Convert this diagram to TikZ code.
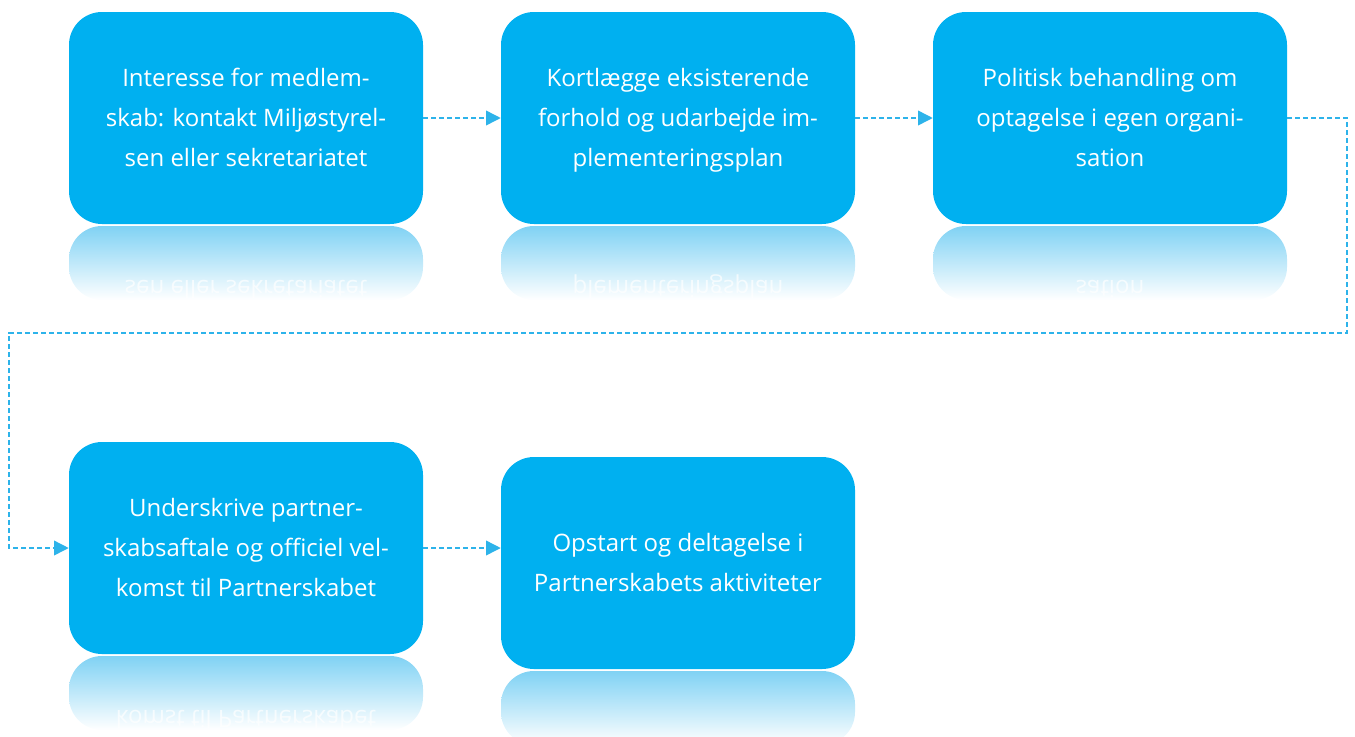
\documentclass[tikz,border=0pt]{standalone}
\usepackage{fontspec}
\setmainfont{Open Sans}
\usepackage{graphicx}
\usetikzlibrary{arrows.meta}
\definecolor{boxblue}{HTML}{00B0F0}
\definecolor{linkblue}{HTML}{2DB3EA}
\definecolor{reflblue}{HTML}{80D2F4}
\tikzset{
  stepbox/.style={fill=boxblue, draw=none, rounded corners=24.75pt,
    minimum width=265.5pt, minimum height=159pt, text=white, align=center,
    inner sep=0pt, font=\fontsize{18}{30}\selectfont},
  link/.style={draw=linkblue, line width=1.1pt, dash pattern=on 3.6pt off 2.4pt,
    -{Triangle[length=11pt,width=11pt]}},
  mirrortext/.style={text=white, opacity=0.7, anchor=base, inner sep=0pt,
    font=\fontsize{18}{30}\selectfont}
}
\newcommand{\reflbox}[3]{% x-left, x-right, y-bottom
  \shade[rounded corners=24.75pt, top color=reflblue, bottom color=white]
    (#1,#3+2) rectangle (#2,#3+76);
}
\begin{document}
\begin{tikzpicture}[x=0.75pt,y=-0.75pt]
\useasboundingbox (0,0) rectangle (1355,736);
% reflections
\reflbox{69}{423}{224}
\reflbox{501}{855}{224}
\reflbox{933}{1287}{224}
\reflbox{69}{423}{654}
\reflbox{501}{855}{669}
\node[mirrortext] (r1) at (246,280) {\scalebox{1}[-1]{sen eller sekretariatet}};
\node[mirrortext] (r2) at (678,280) {\scalebox{1}[-1]{plementeringsplan}};
\node[mirrortext] (r3) at (1110,280) {\scalebox{1}[-1]{sation}};
\node[mirrortext] (r4) at (246,710) {\scalebox{1}[-1]{komst til Partnerskabet}};
% boxes
\node[stepbox] (b1) at (246,118) {\strut Interesse for medlem-\\skab: kontakt Miljøstyrel-\\sen eller sekretariatet\strut};
\node[stepbox] (b2) at (678,118) {\strut Kortlægge eksisterende\\forhold og udarbejde im-\\plementeringsplan\strut};
\node[stepbox] (b3) at (1110,118) {\strut Politisk behandling om\\optagelse i egen organi-\\sation\strut};
\node[stepbox] (b4) at (246,548) {\strut Underskrive partner-\\skabsaftale og officiel vel-\\komst til Partnerskabet\strut};
\node[stepbox] (b5) at (678,563) {\strut Opstart og deltagelse i\\Partnerskabets aktiviteter\strut};
% connectors
\coordinate (c1) at (1347,333);
\coordinate (c2) at (9,333);
\draw[link] (b1.east) -- (b2.west);
\draw[link] (b2.east) -- (b3.west);
\draw[link] (b3.east) -| (c1) -- (c2) |- (b4.west);
\draw[link] (b4.east) -- (b4.east -| b5.west);
\end{tikzpicture}
\end{document}
